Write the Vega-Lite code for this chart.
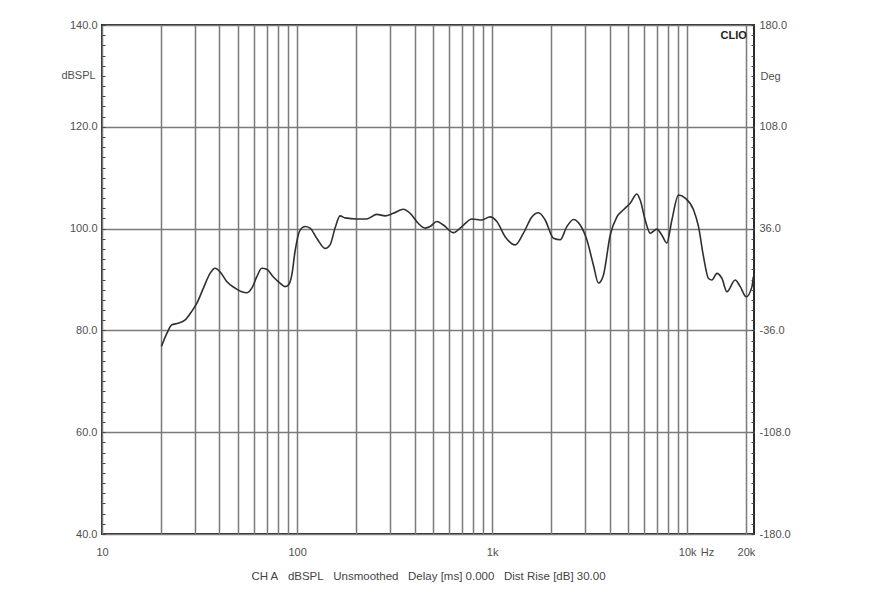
{
  "$schema": "https://vega.github.io/schema/vega-lite/v6.json",
  "width": 652,
  "height": 509,
  "autosize": {"type": "none"},
  "padding": {"left": 102, "top": 25, "right": 126, "bottom": 70},
  "background": "white",
  "config": {
    "view": {"stroke": "#2a2a2a", "strokeWidth": 2},
    "font": "Liberation Sans",
    "axis": {"labelFont": "Liberation Sans", "titleFont": "Liberation Sans", "labelColor": "#505050", "titleColor": "#505050", "labelFontSize": 11, "titleFontSize": 11, "titleFontWeight": "normal", "domain": false}
  },
  "datasets": {
    "curve": [
      {"f": 20.2, "db": 76.9}, {"f": 21.5, "db": 79.4}, {"f": 22.8, "db": 81.1}, {"f": 24.6, "db": 81.4},
      {"f": 26.6, "db": 82.0}, {"f": 28.8, "db": 83.7}, {"f": 30.6, "db": 85.3}, {"f": 33.1, "db": 88.3},
      {"f": 35.8, "db": 91.2}, {"f": 38.0, "db": 92.2}, {"f": 40.3, "db": 91.5}, {"f": 43.6, "db": 89.6},
      {"f": 48.1, "db": 88.3}, {"f": 52.0, "db": 87.6}, {"f": 55.2, "db": 87.4}, {"f": 58.6, "db": 88.3},
      {"f": 62.1, "db": 90.5}, {"f": 65.9, "db": 92.2}, {"f": 69.9, "db": 92.0}, {"f": 75.6, "db": 90.5},
      {"f": 81.8, "db": 89.3}, {"f": 86.8, "db": 88.6}, {"f": 90.2, "db": 88.9}, {"f": 94.0, "db": 90.9},
      {"f": 97.7, "db": 95.6}, {"f": 103.6, "db": 99.7}, {"f": 109.9, "db": 100.4}, {"f": 116.6, "db": 100.1},
      {"f": 126.2, "db": 98.1}, {"f": 139.2, "db": 96.1}, {"f": 147.6, "db": 96.8}, {"f": 156.6, "db": 100.1},
      {"f": 166.1, "db": 102.5}, {"f": 176.2, "db": 102.1}, {"f": 202.4, "db": 101.9}, {"f": 227.8, "db": 101.9},
      {"f": 256.3, "db": 102.8}, {"f": 282.7, "db": 102.5}, {"f": 311.8, "db": 103.0}, {"f": 350.9, "db": 103.8},
      {"f": 379.8, "db": 103.0}, {"f": 418.9, "db": 101.0}, {"f": 453.4, "db": 100.1}, {"f": 481.0, "db": 100.4},
      {"f": 520.4, "db": 101.4}, {"f": 562.7, "db": 100.7}, {"f": 633.2, "db": 99.2}, {"f": 699.3, "db": 100.4},
      {"f": 786.7, "db": 101.9}, {"f": 885.4, "db": 101.7}, {"f": 976.6, "db": 102.3}, {"f": 1057, "db": 101.4},
      {"f": 1166, "db": 98.4}, {"f": 1312, "db": 96.8}, {"f": 1447, "db": 99.1}, {"f": 1598, "db": 102.3},
      {"f": 1728, "db": 103.1}, {"f": 1870, "db": 101.7}, {"f": 2063, "db": 98.1}, {"f": 2233, "db": 97.8},
      {"f": 2416, "db": 100.4}, {"f": 2612, "db": 101.8}, {"f": 2827, "db": 100.7}, {"f": 3059, "db": 97.8},
      {"f": 3307, "db": 92.8}, {"f": 3509, "db": 89.3}, {"f": 3722, "db": 90.9}, {"f": 4028, "db": 98.7},
      {"f": 4361, "db": 102.3}, {"f": 4714, "db": 103.7}, {"f": 5104, "db": 105.0}, {"f": 5521, "db": 106.8},
      {"f": 5741, "db": 105.6}, {"f": 6089, "db": 101.7}, {"f": 6462, "db": 99.1}, {"f": 6993, "db": 99.9},
      {"f": 7419, "db": 98.7}, {"f": 7868, "db": 97.2}, {"f": 8347, "db": 101.7}, {"f": 9025, "db": 106.6},
      {"f": 9765, "db": 106.0}, {"f": 10772, "db": 103.7}, {"f": 11428, "db": 100.4}, {"f": 12121, "db": 94.5},
      {"f": 12860, "db": 90.2}, {"f": 13389, "db": 89.9}, {"f": 14203, "db": 91.2}, {"f": 15066, "db": 90.2},
      {"f": 15981, "db": 87.6}, {"f": 17628, "db": 89.9}, {"f": 18700, "db": 88.6}, {"f": 20075, "db": 86.6},
      {"f": 21475, "db": 88.6}, {"f": 21810, "db": 90.5}
    ],
    "clio": [{"f": 17300, "db": 137.8, "label": "CLIO"}],
    "hz": [{"f": 12700, "db": 40, "label": "Hz"}]
  },
  "encoding": {
    "x": {
      "field": "f", "type": "quantitative",
      "scale": {"type": "log", "domain": [10, 22000], "nice": false},
      "axis": {
        "values": [10, 20, 30, 40, 50, 60, 70, 80, 90, 100, 200, 300, 400, 500, 600, 700, 800, 900, 1000, 2000, 3000, 4000, 5000, 6000, 7000, 8000, 9000, 10000, 20000],
        "labelExpr": "datum.value == 10 ? '10' : datum.value == 100 ? '100' : datum.value == 1000 ? '1k' : datum.value == 10000 ? '10k' : datum.value == 20000 ? '20k' : ''",
        "grid": true, "gridColor": "#7a7a7a", "gridWidth": 1.5, "gridOpacity": 1,
        "ticks": false, "labelPadding": 12, "labelFlush": false,
        "title": "CH A\u00a0\u00a0 dBSPL\u00a0\u00a0 Unsmoothed\u00a0\u00a0 Delay [ms] 0.000\u00a0\u00a0 Dist Rise [dB] 30.00",
        "titlePadding": 13, "titleColor": "#444444", "titleFontSize": 11.5
      }
    }
  },
  "layer": [
    {
      "data": {"name": "curve"},
      "mark": {"type": "line", "color": "#303030", "strokeWidth": 1.6, "interpolate": "monotone"},
      "encoding": {
        "y": {
          "field": "db", "type": "quantitative",
          "scale": {"domain": [40, 140], "nice": false, "zero": false},
          "axis": {
            "orient": "left",
            "values": [40, 42, 44, 46, 48, 50, 52, 54, 56, 58, 60, 62, 64, 66, 68, 70, 72, 74, 76, 78, 80, 82, 84, 86, 88, 90, 92, 94, 96, 98, 100, 102, 104, 106, 108, 110, 112, 114, 116, 118, 120, 122, 124, 126, 128, 130, 132, 134, 136, 138, 140],
            "labelExpr": "datum.value % 20 == 0 ? format(datum.value, '.1f') : ''",
            "grid": true, "gridColor": "#7a7a7a", "gridWidth": 1.5,
            "gridOpacity": {"expr": "datum.value % 20 == 0 ? 1 : 0"},
            "ticks": true, "tickSize": -3, "tickColor": "#444444", "tickWidth": 1,
            "labelPadding": 8,
            "title": "dBSPL", "titleAngle": 0, "titleX": -24, "titleY": 50,
            "titleAlign": "center", "titleBaseline": "middle"
          }
        }
      }
    },
    {
      "data": {"name": "clio"},
      "mark": {"type": "text", "font": "Liberation Sans", "fontWeight": "bold", "fontSize": 11, "color": "#222222", "baseline": "middle", "align": "center"},
      "encoding": {
        "text": {"field": "label"},
        "y": {
          "field": "db", "type": "quantitative",
          "axis": {
            "orient": "right",
            "values": [40, 42, 44, 46, 48, 50, 52, 54, 56, 58, 60, 62, 64, 66, 68, 70, 72, 74, 76, 78, 80, 82, 84, 86, 88, 90, 92, 94, 96, 98, 100, 102, 104, 106, 108, 110, 112, 114, 116, 118, 120, 122, 124, 126, 128, 130, 132, 134, 136, 138, 140],
            "labelExpr": "datum.value % 20 == 0 ? ((datum.value < 90 ? '-' : '') + format(abs((datum.value - 90) * 3.6), '.1f')) : ''",
            "grid": false,
            "ticks": true, "tickSize": -3, "tickColor": "#444444", "tickWidth": 1,
            "labelPadding": 8,
            "title": "Deg", "titleAngle": 0, "titleX": 6, "titleY": 51,
            "titleAlign": "left", "titleBaseline": "middle"
          }
        }
      }
    },
    {
      "data": {"name": "hz"},
      "mark": {"type": "text", "font": "Liberation Sans", "fontSize": 11, "color": "#505050", "baseline": "top", "align": "center", "dy": 13},
      "encoding": {
        "text": {"field": "label"},
        "y": {"field": "db", "type": "quantitative", "axis": null}
      }
    }
  ],
  "resolve": {"axis": {"y": "independent"}}
}
